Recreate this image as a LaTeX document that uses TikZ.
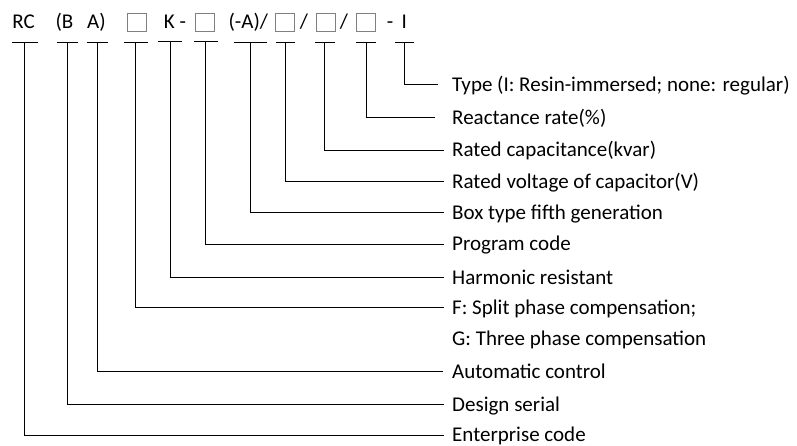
\documentclass[tikz,border=0pt]{standalone}
\usepackage{fontspec}
\setmainfont{Carlito}
\begin{document}
\begin{tikzpicture}[x=1pt,y=-1pt,
  ln/.style={line width=1.1pt,black},
  tok/.style={anchor=base,inner sep=0pt,font=\fontsize{21}{25}\selectfont},
  pbox/.style={draw=black!50,line width=0.9pt,minimum width=19pt,minimum height=18pt,inner sep=0pt},
  lab/.style={anchor=west,inner sep=0pt,text height=13.5pt,text depth=0pt,font=\fontsize{21}{25}\selectfont}]
\useasboundingbox (0,0) rectangle (797,446);
% top tokens
\node[tok] (t1) at (23.5,28.5) {RC};
\node[tok] (t2) at (64.5,28.5) {(B};
\node[tok] (t3) at (96.5,28.5) {A)};
\node[pbox] (t4) at (136.5,22) {};
\node[tok] (t5) at (175,28.5) {K -};
\node[pbox] (t6) at (204.7,22) {};
\node[tok] (t7) at (248.3,28.5) {(-A)/};
\node[pbox] (t8) at (285.2,22) {};
\node[tok] (s1) at (304,28.5) {/};
\node[pbox] (t9) at (325.5,22) {};
\node[tok] (s2) at (344,28.5) {/};
\node[pbox] (t10) at (366.2,22) {};
\node[tok] (s3) at (390,28.5) {-};
\node[tok] (t11) at (404.3,28.5) {I};
% tick centres
\coordinate (v1) at (24.5,42.5);
\coordinate (v2) at (67.5,42.5);
\coordinate (v3) at (97.5,42.5);
\coordinate (v4) at (135.5,42.5);
\coordinate (v5) at (170.5,41.5);
\coordinate (v6) at (205.5,41.5);
\coordinate (v7) at (250.5,42.5);
\coordinate (v8) at (285.5,42.5);
\coordinate (v9) at (324.5,42.5);
\coordinate (v10) at (366.5,42.5);
\coordinate (v11) at (404.5,42.5);
% line ends
\coordinate (e1) at (444,435.5);
\coordinate (e2) at (444,404.5);
\coordinate (e3) at (443,371.5);
\coordinate (e4) at (444,307.5);
\coordinate (e5) at (444,277.5);
\coordinate (e6) at (444,244.5);
\coordinate (e7) at (444,212.5);
\coordinate (e8) at (444,181.5);
\coordinate (e9) at (444,150.5);
\coordinate (e10) at (434.7,117.5);
\coordinate (e11) at (437.7,84.5);
% ticks
\draw[ln] (12,42.5) -- (37.7,42.5);
\draw[ln] (57,42.5) -- (77.7,42.5);
\draw[ln] (86.7,42.5) -- (107.7,42.5);
\draw[ln] (124,42.5) -- (147.7,42.5);
\draw[ln] (158,41.5) -- (181.7,41.5);
\draw[ln] (194,41.5) -- (217.7,41.5);
\draw[ln] (234,42.5) -- (266.7,42.5);
\draw[ln] (276,42.5) -- (295.3,42.5);
\draw[ln] (315.3,42.5) -- (335.3,42.5);
\draw[ln] (356.3,42.5) -- (376.3,42.5);
\draw[ln] (395.3,42.5) -- (414.3,42.5);
% connectors
\foreach \i in {1,...,11} { \draw[ln] (v\i) |- (e\i); }
% labels
\node[lab] (l1) at (452,435) {Enterprise code};
\node[lab] (l2) at (452,404.3) {Design serial};
\node[lab] (l3) at (452,371.3) {Automatic control};
\node[lab] (l4) at (452,307.3) {F: Split phase compensation;};
\node[lab] (l4b) at (452,339) {G: Three phase compensation};
\node[lab] (l5) at (452,277.3) {Harmonic resistant};
\node[lab] (l6) at (452,244) {Program code};
\node[lab] (l7) at (452,212.3) {Box type fifth generation};
\node[lab] (l8) at (452,181.3) {Rated voltage of capacitor(V)};
\node[lab] (l9) at (452,150) {Rated capacitance(kvar)};
\node[lab] (l10) at (452,117.3) {Reactance rate(\%)};
\node[lab] (l11) at (452,84.3) {Type (I: Resin-immersed; none: regular)};
\end{tikzpicture}
\end{document}
